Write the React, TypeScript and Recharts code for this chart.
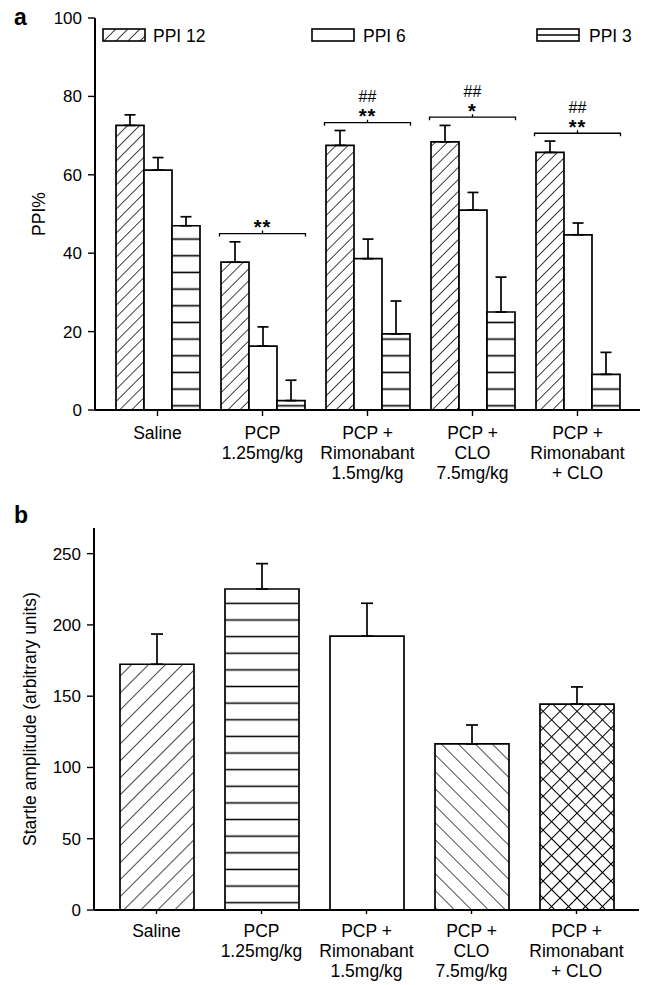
import React from 'react';
import { BarChart, Bar, XAxis, YAxis, ErrorBar, Cell, Legend, ReferenceDot, Label } from 'recharts';

const FONT = '"Liberation Sans", Arial, Helvetica, sans-serif';

// categories (same for both panels)
const groups = [
  'Saline',
  'PCP\n1.25mg/kg',
  'PCP +\nRimonabant\n1.5mg/kg',
  'PCP +\nCLO\n7.5mg/kg',
  'PCP +\nRimonabant\n+ CLO',
];

// panel a: PPI%
const ppi12 = [72.6, 37.7, 67.5, 68.4, 65.7];
const ppi12Err = [2.7, 5.2, 3.8, 4.2, 2.9];
const ppi6 = [61.2, 16.3, 38.6, 51.0, 44.7];
const ppi6Err = [3.2, 4.9, 5.0, 4.5, 3.0];
const ppi3 = [47.0, 2.4, 19.4, 25.0, 9.1];
const ppi3Err = [2.3, 5.2, 8.4, 8.9, 5.6];
const ppiTicks = [0, 20, 40, 60, 80, 100];

// significance brackets (panel a)
const bracketLevel = [null, 45.0, 73.3, 74.7, 70.6];
const bracketStars = ['', '**', '**', '*', '**'];
const bracketHash = ['', '', '##', '##', '##'];

// panel b: startle amplitude
const startle = [172.4, 225.2, 192.2, 116.5, 144.5];
const startleErr = [21.2, 17.8, 23.0, 13.3, 12.0];
const startleTicks = [0, 50, 100, 150, 200, 250];
const startleFills = ['url(#bDiag)', 'url(#bHoriz)', '#ffffff', 'url(#bBack)', 'url(#bCross)'];

const dataA = groups.map((name, i) => ({
  name,
  p12: ppi12[i],
  p6: ppi6[i],
  p3: ppi3[i],
  e12: [0, ppi12Err[i]],
  e6: [0, ppi6Err[i]],
  e3: [0, ppi3Err[i]],
}));

const dataB = groups.map((name, i) => ({
  name,
  amp: startle[i],
  err: [0, startleErr[i]],
}));

const MultiLineTick = ({ x, y, payload }: any) => {
  const lines = String(payload.value).split('\n');
  return (
    <text x={x} y={y} textAnchor="middle" fontSize={17.5} fontFamily={FONT} fill="#000">
      {lines.map((l, i) => (
        <tspan key={i} x={x} dy={i === 0 ? 21 : 20}>{l}</tspan>
      ))}
    </text>
  );
};

const rotatedLabel = (text: string, cx: number) => (props: any) => {
  const vb = props.viewBox || {};
  const cy = vb.y != null ? vb.y + vb.height / 2 : 214;
  return (
    <text
      transform={`translate(${cx}, ${cy}) rotate(-90)`}
      textAnchor="middle"
      dominantBaseline="central"
      fontSize={17.5}
      fontFamily={FONT}
      fill="#000"
    >
      {text}
    </text>
  );
};

const bracketShape = (stars: string, hash: string) => (props: any) => {
  const { cx, cy } = props;
  const hw = 43;
  return (
    <g>
      <path
        d={`M${cx - hw},${cy + 3} L${cx - hw},${cy} L${cx + hw},${cy} L${cx + hw},${cy + 3} M${cx},${cy} L${cx},${cy - 3}`}
        stroke="#000"
        strokeWidth={1.3}
        fill="none"
      />
      <text x={cx} y={cy + 0.5} textAnchor="middle" fontSize={20} fontWeight="bold" fontFamily={FONT} fill="#000" letterSpacing={1}>
        {stars}
      </text>
      {hash && (
        <text x={cx} y={cy - 20.5} textAnchor="middle" fontSize={16} fontFamily={FONT} fill="#000">
          {hash}
        </text>
      )}
    </g>
  );
};

const LegendA = () => (
  <svg width={649} height={22} style={{ display: 'block' }}>
    <rect x={103} y={5} width={42} height={12} fill="url(#aDiag)" stroke="#000" strokeWidth={1.6} />
    <text x={153} y={18} fontSize={17.5} fontFamily={FONT} fill="#000">PPI 12</text>
    <rect x={312} y={5} width={42} height={12} fill="#fff" stroke="#000" strokeWidth={1.6} />
    <text x={363} y={18} fontSize={17.5} fontFamily={FONT} fill="#000">PPI 6</text>
    <rect x={537} y={5} width={42} height={12} fill="#fff" stroke="#000" strokeWidth={1.6} />
    <line x1={537} y1={11} x2={579} y2={11} stroke="#000" strokeWidth={1.6} />
    <text x={589} y={18} fontSize={17.5} fontFamily={FONT} fill="#000">PPI 3</text>
  </svg>
);

const axisLine = { stroke: '#000', strokeWidth: 2 };
const tickStyle = { fontSize: 17, fill: '#000', fontFamily: FONT };

function PanelA() {
  return (
    <BarChart width={649} height={490} data={dataA} margin={{ top: 18, right: 9, bottom: 20, left: 0 }} barGap={0}>
      <defs>
        <pattern id="aDiag" patternUnits="userSpaceOnUse" width={8.5} height={8.5} patternTransform="rotate(45)">
          <rect width={8.5} height={8.5} fill="#fff" />
          <line x1={0} y1={0} x2={0} y2={8.5} stroke="#000" strokeWidth={1.5} />
        </pattern>
        <pattern id="aHoriz" patternUnits="userSpaceOnUse" x={0} y={-2.63} width={10} height={16.67}>
          <rect width={10} height={16.67} fill="#fff" />
          <line x1={0} y1={8.33} x2={10} y2={8.33} stroke="#000" strokeWidth={1.6} />
        </pattern>
      </defs>
      <XAxis
        dataKey="name"
        tick={<MultiLineTick />}
        tickLine={{ stroke: '#000', strokeWidth: 1.4 }}
        tickSize={6}
        axisLine={axisLine}
        interval={0}
        height={60}
        padding={{ left: 10, right: 10 }}
      />
      <XAxis xAxisId="top" orientation="top" dataKey="name" tick={false} tickLine={false} axisLine={axisLine} height={0} padding={{ left: 10, right: 10 }} />
      <YAxis
        domain={[0, 100]}
        ticks={ppiTicks}
        width={95}
        tick={tickStyle}
        tickSize={7}
        tickMargin={6}
        tickLine={{ stroke: '#000', strokeWidth: 1.4 }}
        axisLine={axisLine}
      >
        <Label content={rotatedLabel('PPI%', 39)} />
      </YAxis>
      <YAxis yAxisId="right" orientation="right" domain={[0, 100]} width={0} tick={false} tickLine={false} axisLine={axisLine} />
      <Legend
        layout="horizontal"
        verticalAlign="middle"
        align="center"
        content={<LegendA />}
        wrapperStyle={{ top: 24, left: 0, width: 649, height: 22 }}
      />
      <Bar dataKey="p12" name="PPI 12" barSize={28} fill="url(#aDiag)" stroke="#000" strokeWidth={1.7} isAnimationActive={false}>
        <ErrorBar dataKey="e12" width={5.5} stroke="#000" strokeWidth={1.7} direction="y" />
      </Bar>
      <Bar dataKey="p6" name="PPI 6" barSize={28} fill="#fff" stroke="#000" strokeWidth={1.7} isAnimationActive={false}>
        <ErrorBar dataKey="e6" width={5.5} stroke="#000" strokeWidth={1.7} direction="y" />
      </Bar>
      <Bar dataKey="p3" name="PPI 3" barSize={28} fill="url(#aHoriz)" stroke="#000" strokeWidth={1.7} isAnimationActive={false}>
        <ErrorBar dataKey="e3" width={5.5} stroke="#000" strokeWidth={1.7} direction="y" />
      </Bar>
      {groups.map((g, i) =>
        bracketLevel[i] == null ? null : (
          <ReferenceDot
            key={g}
            x={g}
            y={bracketLevel[i] as number}
            r={1}
            shape={bracketShape(bracketStars[i], bracketHash[i])}
          />
        )
      )}
    </BarChart>
  );
}

function PanelB() {
  return (
    <BarChart width={649} height={495} data={dataB} margin={{ top: 38, right: 10, bottom: 15, left: 0 }}>
      <defs>
        <pattern id="bDiag" patternUnits="userSpaceOnUse" width={12} height={12} patternTransform="rotate(45)">
          <rect width={12} height={12} fill="#fff" />
          <line x1={0} y1={0} x2={0} y2={12} stroke="#000" strokeWidth={1.4} />
        </pattern>
        <pattern id="bBack" patternUnits="userSpaceOnUse" width={12} height={12} patternTransform="rotate(-45)">
          <rect width={12} height={12} fill="#fff" />
          <line x1={0} y1={0} x2={0} y2={12} stroke="#000" strokeWidth={1.4} />
        </pattern>
        <pattern id="bCross" patternUnits="userSpaceOnUse" width={12} height={12} patternTransform="rotate(45)">
          <rect width={12} height={12} fill="#fff" />
          <line x1={0} y1={0} x2={0} y2={12} stroke="#000" strokeWidth={2} />
          <line x1={0} y1={0} x2={12} y2={0} stroke="#000" strokeWidth={2} />
        </pattern>
        <pattern id="bHoriz" patternUnits="userSpaceOnUse" x={0} y={5.27} width={10} height={16.63}>
          <rect width={10} height={16.63} fill="#fff" />
          <line x1={0} y1={8.315} x2={10} y2={8.315} stroke="#000" strokeWidth={1.5} />
        </pattern>
      </defs>
      <XAxis
        dataKey="name"
        tick={<MultiLineTick />}
        tickLine={{ stroke: '#000', strokeWidth: 1.4 }}
        tickSize={4}
        axisLine={axisLine}
        interval={0}
        height={60}
        padding={{ left: 10, right: 10 }}
      />
      <XAxis xAxisId="top" orientation="top" dataKey="name" tick={false} tickLine={false} axisLine={axisLine} height={0} padding={{ left: 10, right: 10 }} />
      <YAxis
        domain={[0, 268]}
        ticks={startleTicks}
        width={94}
        tick={tickStyle}
        tickSize={7}
        tickMargin={6}
        tickLine={{ stroke: '#000', strokeWidth: 1.4 }}
        axisLine={axisLine}
      >
        <Label content={rotatedLabel('Startle amplitude (arbitrary units)', 30)} />
      </YAxis>
      <YAxis yAxisId="right" orientation="right" domain={[0, 268]} width={0} tick={false} tickLine={false} axisLine={axisLine} />
      <Bar dataKey="amp" barSize={74} stroke="#000" strokeWidth={1.7} isAnimationActive={false}>
        {dataB.map((d, i) => (
          <Cell key={d.name} fill={startleFills[i]} />
        ))}
        <ErrorBar dataKey="err" width={6} stroke="#000" strokeWidth={1.7} direction="y" />
      </Bar>
    </BarChart>
  );
}

export default function App() {
  return (
    <div style={{ position: 'absolute', left: 0, top: 0, width: 649, height: 985, background: '#fff' }}>
      <div style={{ position: 'absolute', left: 0, top: 0 }}>
        <PanelA />
      </div>
      <div style={{ position: 'absolute', left: 0, top: 490 }}>
        <PanelB />
      </div>
      <svg width={649} height={985} style={{ position: 'absolute', left: 0, top: 0, pointerEvents: 'none' }}>
        <text x={14} y={25} fontSize={23} fontWeight="bold" fontFamily={FONT} fill="#000">a</text>
        <text x={14} y={523} fontSize={23} fontWeight="bold" fontFamily={FONT} fill="#000">b</text>
      </svg>
    </div>
  );
}
